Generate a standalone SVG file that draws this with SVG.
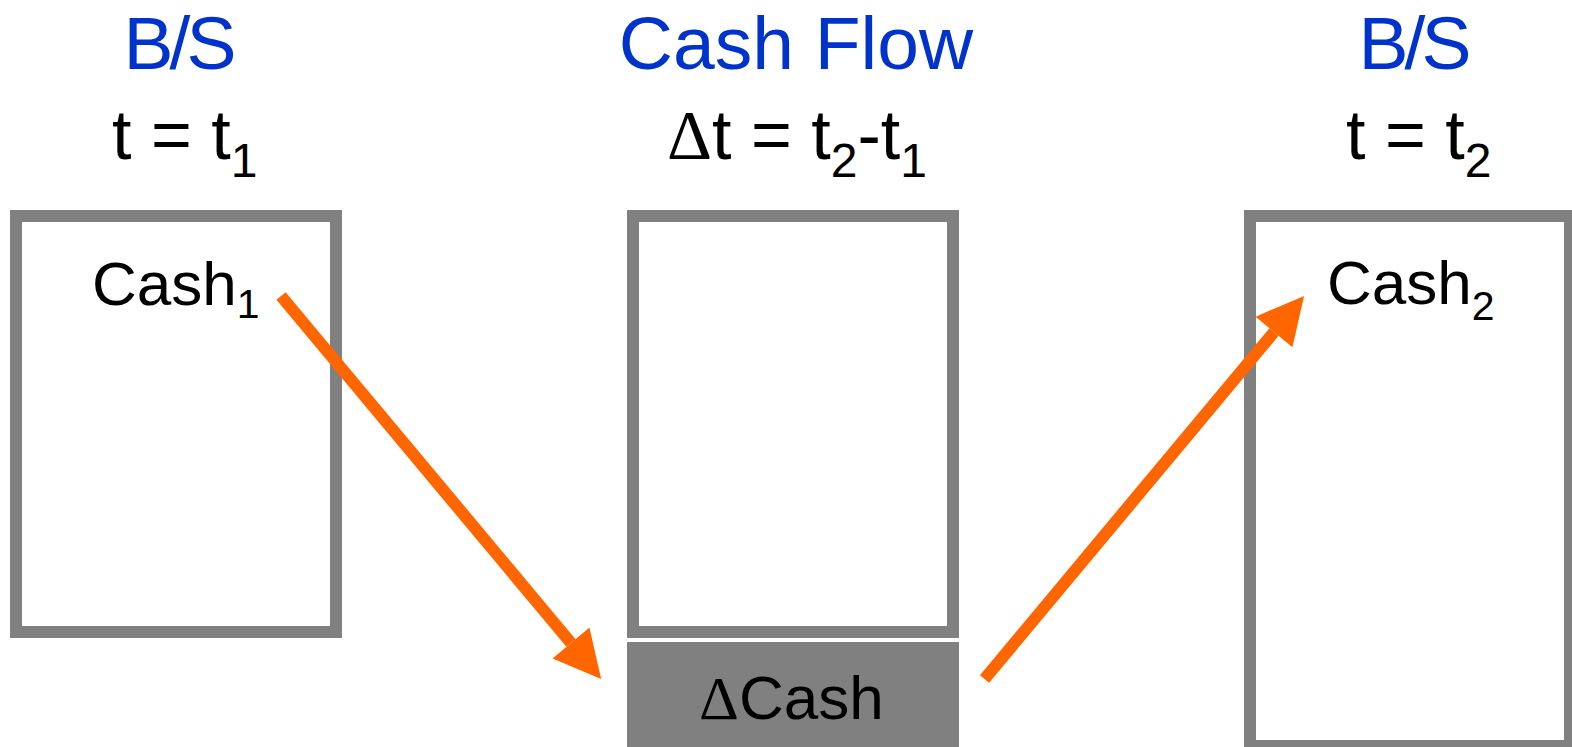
<svg xmlns="http://www.w3.org/2000/svg" width="1572" height="747" viewBox="0 0 1572 747">
<style>
.box{fill:#fff;stroke:#808080;stroke-width:12}
.title{font-family:"Liberation Sans",Arial,sans-serif;font-size:75px;fill:#0033cc;text-anchor:middle}
.sub{font-family:"Liberation Sans",Arial,sans-serif;font-size:70px;fill:#000}
.lbl{font-family:"Liberation Sans",Arial,sans-serif;font-size:62px;fill:#000}
.delta{font-family:"Liberation Serif","Times New Roman",serif}
.conn{stroke:#ff6600;stroke-width:12;fill:none}
</style>
<defs>
<marker id="ah" markerUnits="userSpaceOnUse" markerWidth="48" markerHeight="48" refX="0" refY="24" orient="auto" overflow="visible">
<path d="M0,0 L47,24 L0,48 z" fill="#ff6600"/>
</marker>
</defs>
<rect width="1572" height="747" fill="#fff"/>
<g id="bs1">
<rect class="box" x="16" y="216" width="320" height="416"/>
<text class="title" x="178" y="69" letter-spacing="-4">B/S</text>
<text class="sub" x="112" y="159">t = t<tspan font-size="48" dy="18">1</tspan></text>
<text class="lbl" x="92" y="305">Cash<tspan font-size="41" dy="13">1</tspan></text>
</g>
<g id="cf">
<rect class="box" x="633" y="216" width="320" height="416"/>
<text class="title" x="796" y="69">Cash Flow</text>
<text class="sub" x="667" y="159"><tspan class="delta">Δ</tspan>t = t<tspan font-size="48" dy="18">2</tspan><tspan dy="-18">-t</tspan><tspan font-size="48" dy="18">1</tspan></text>
</g>
<g id="dcash">
<rect x="627" y="642" width="332" height="110" fill="#808080"/>
<text class="lbl" x="699" y="719"><tspan class="delta">Δ</tspan>Cash</text>
</g>
<g id="bs2">
<rect class="box" x="1250" y="216" width="320" height="530"/>
<text class="title" x="1413" y="69" letter-spacing="-4">B/S</text>
<text class="sub" x="1346" y="159">t = t<tspan font-size="48" dy="18">2</tspan></text>
<text class="lbl" x="1327" y="304">Cash<tspan font-size="41" dy="16">2</tspan></text>
</g>
<g id="connectors">
<line class="conn" x1="281" y1="296" x2="571" y2="643" marker-end="url(#ah)"/>
<line class="conn" x1="984.5" y1="679" x2="1274" y2="332" marker-end="url(#ah)"/>
</g>
</svg>
